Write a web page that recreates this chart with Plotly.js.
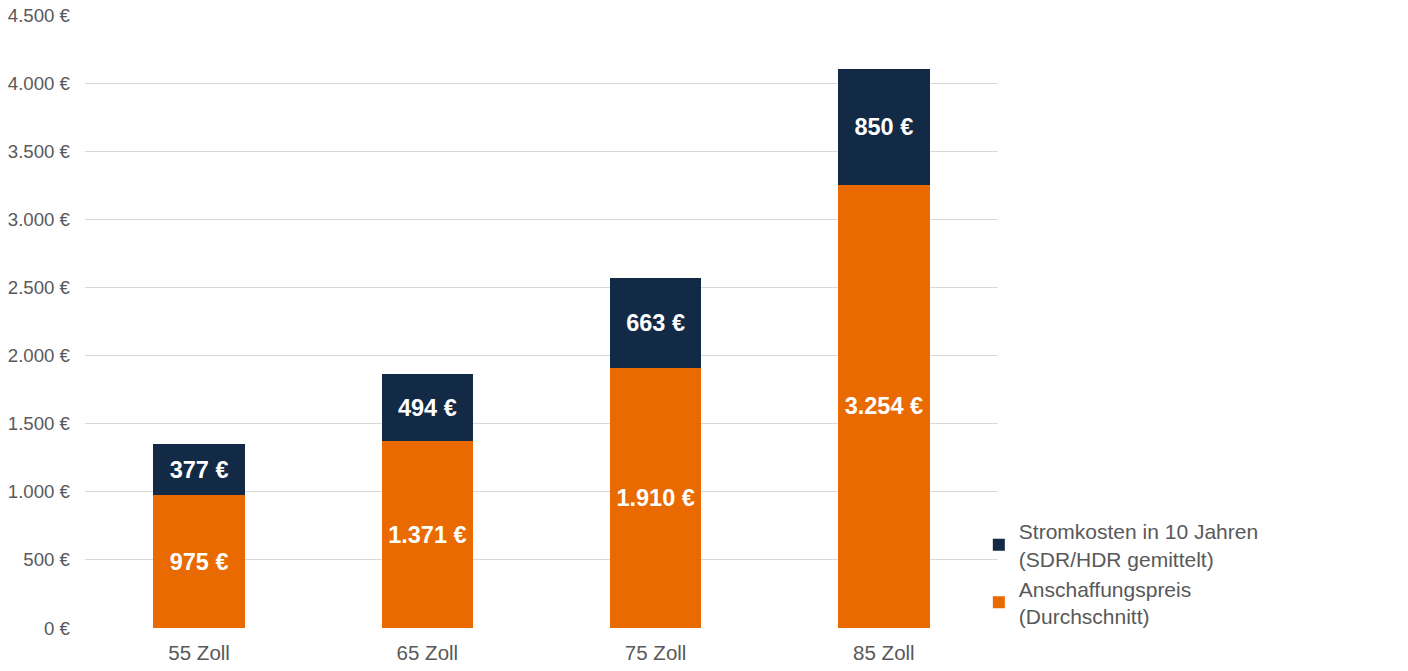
<!DOCTYPE html>
<html>
<head>
<meta charset="utf-8">
<script src="https://cdn.plot.ly/plotly-3.0.1.min.js"></script>
<style>
html,body{margin:0;padding:0;background:#fff;}
#chart{width:1408px;height:671px;}
</style>
</head>
<body>
<div id="chart"></div>
<script>
var categories = ['55 Zoll', '65 Zoll', '75 Zoll', '85 Zoll'];
var anschaffungspreis = [975, 1371, 1910, 3254];
var stromkosten = [377, 494, 663, 850];
var seriesNames = ['Anschaffungspreis<br>(Durchschnitt)', 'Stromkosten in 10 Jahren<br>(SDR/HDR gemittelt)'];

var labelFont = {family: 'Liberation Sans, Arial, sans-serif', size: 23.5, color: '#ffffff', weight: 'bold'};

var traces = [
  {
    type: 'bar', name: seriesNames[0], x: categories, y: anschaffungspreis,
    marker: {color: '#E96A00'},
    texttemplate: '%{y:,.0f} €', textposition: 'inside', insidetextanchor: 'middle',
    textfont: labelFont, constraintext: 'none', hoverinfo: 'skip'
  },
  {
    type: 'bar', name: seriesNames[1], x: categories, y: stromkosten,
    marker: {color: '#122A46'},
    texttemplate: '%{y:,.0f} €', textposition: 'inside', insidetextanchor: 'middle',
    textfont: labelFont, constraintext: 'none', hoverinfo: 'skip'
  }
];

var layout = {
  width: 1408, height: 671,
  margin: {l: 85, r: 410, t: 15, b: 43, pad: 0},
  paper_bgcolor: '#ffffff', plot_bgcolor: '#ffffff',
  separators: ',.',
  barmode: 'stack', bargap: 0.6,
  font: {family: 'Liberation Sans, Arial, sans-serif', color: '#595959'},
  xaxis: {
    showgrid: false, showline: false, zeroline: false, ticks: '',
    tickfont: {size: 20.5, color: '#595959'},
    ticklabelstandoff: 10
  },
  yaxis: {
    range: [0, 4500], dtick: 500, tickformat: ',.0f', ticksuffix: ' €',
    showgrid: true, gridcolor: '#d9d9d9', gridwidth: 1,
    zeroline: false, showline: false, ticks: '',
    tickfont: {size: 18.67, color: '#595959'},
    ticklabelstandoff: 14
  },
  legend: {
    x: 0.979, xanchor: 'left', y: 0.191, yanchor: 'top',
    traceorder: 'reversed',
    font: {size: 21, color: '#595959'},
    bgcolor: 'rgba(0,0,0,0)', tracegroupgap: 0
  },
  showlegend: true,
  hovermode: false
};

Plotly.newPlot('chart', traces, layout, {displayModeBar: false, staticPlot: true});
</script>
</body>
</html>
